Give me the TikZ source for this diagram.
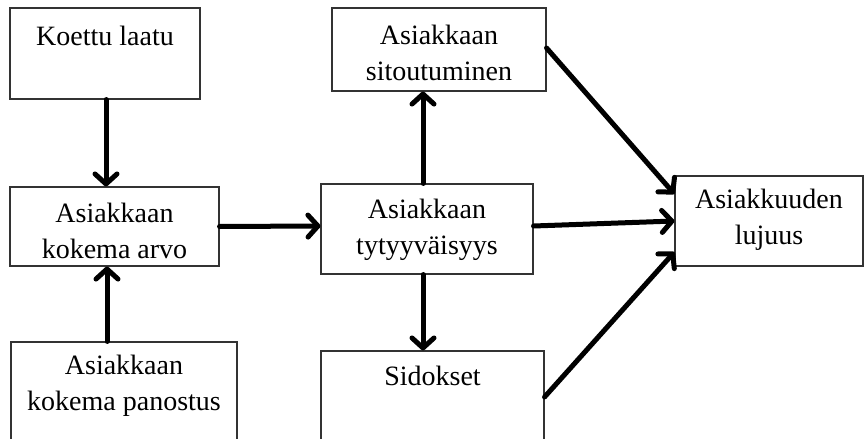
\documentclass[tikz,border=0pt]{standalone}
\usepackage{fontspec}
\setmainfont{Liberation Serif}
\usetikzlibrary{arrows.meta,calc}
\begin{document}
\begin{tikzpicture}[x=1pt,y=-1pt,
  boxstyle/.style={draw=black!80,line width=1.1pt,inner sep=0pt,minimum width=#1},
  lbl/.style={font=\fontsize{28}{36}\selectfont,align=center,inner sep=0pt},
  arr/.style={line width=5pt,line cap=round,-{Straight Barb[length=10pt,width=22pt,line cap=round,line join=round]}}]
\useasboundingbox (0,0) rectangle (865,439);
\clip (0,0) rectangle (865,439);
% boxes
\node[boxstyle=190pt,minimum height=91pt] (koettu) at (105,53.5) {};
\node[boxstyle=209pt,minimum height=79pt] (arvo) at (114.5,226.5) {};
\node[boxstyle=226pt,minimum height=118pt] (panostus) at (124,401) {};
\node[boxstyle=214pt,minimum height=83pt] (sitou) at (439,49.5) {};
\node[boxstyle=212pt,minimum height=90pt] (tyty) at (427,229) {};
\node[boxstyle=223pt,minimum height=119pt] (sidokset) at (432.5,410.5) {};
\node[boxstyle=188pt,minimum height=90pt] (lujuus) at (769,221) {};
% labels
\node[lbl] (tkoettu) at (105,36) {Koettu laatu};
\node[lbl] (tarvo) at (114.5,231) {Asiakkaan\\kokema arvo};
\node[lbl] (tpanostus) at (124,386) {Asiakkaan\\kokema panostus};
\node[lbl] (tsitou) at (439,53) {Asiakkaan\\sitoutuminen};
\node[lbl] (ttyty) at (427,229.5) {Asiakkaan\\tytyyväisyys};
\node[lbl] (tsidokset) at (432.5,376) {Sidokset};
\node[lbl] (tlujuus) at (769,220) {Asiakkuuden\\lujuus};
% arrows
\draw[arr] ([xshift=1pt]koettu.south) -- ([xshift=-8.5pt]arvo.north);
\draw[arr] ([xshift=-17pt]panostus.north) -- ([xshift=-7.5pt]arvo.south);
\draw[arr] (arvo.east) -- ([yshift=3pt]tyty.west);
\draw[arr] ([xshift=-4pt]tyty.north) -- ([xshift=-16pt]sitou.south);
\draw[arr] ([xshift=-4pt]tyty.south) -- ([xshift=-9.5pt]sidokset.north);
\draw[arr] ([yshift=3pt]tyty.east) -- (lujuus.west);
\draw[arr] ([yshift=1.5pt]sitou.east) -- ([yshift=27pt]lujuus.west);
\draw[arr] ([yshift=13.5pt]sidokset.east) -- ([yshift=-31pt]lujuus.west);
\end{tikzpicture}
\end{document}
